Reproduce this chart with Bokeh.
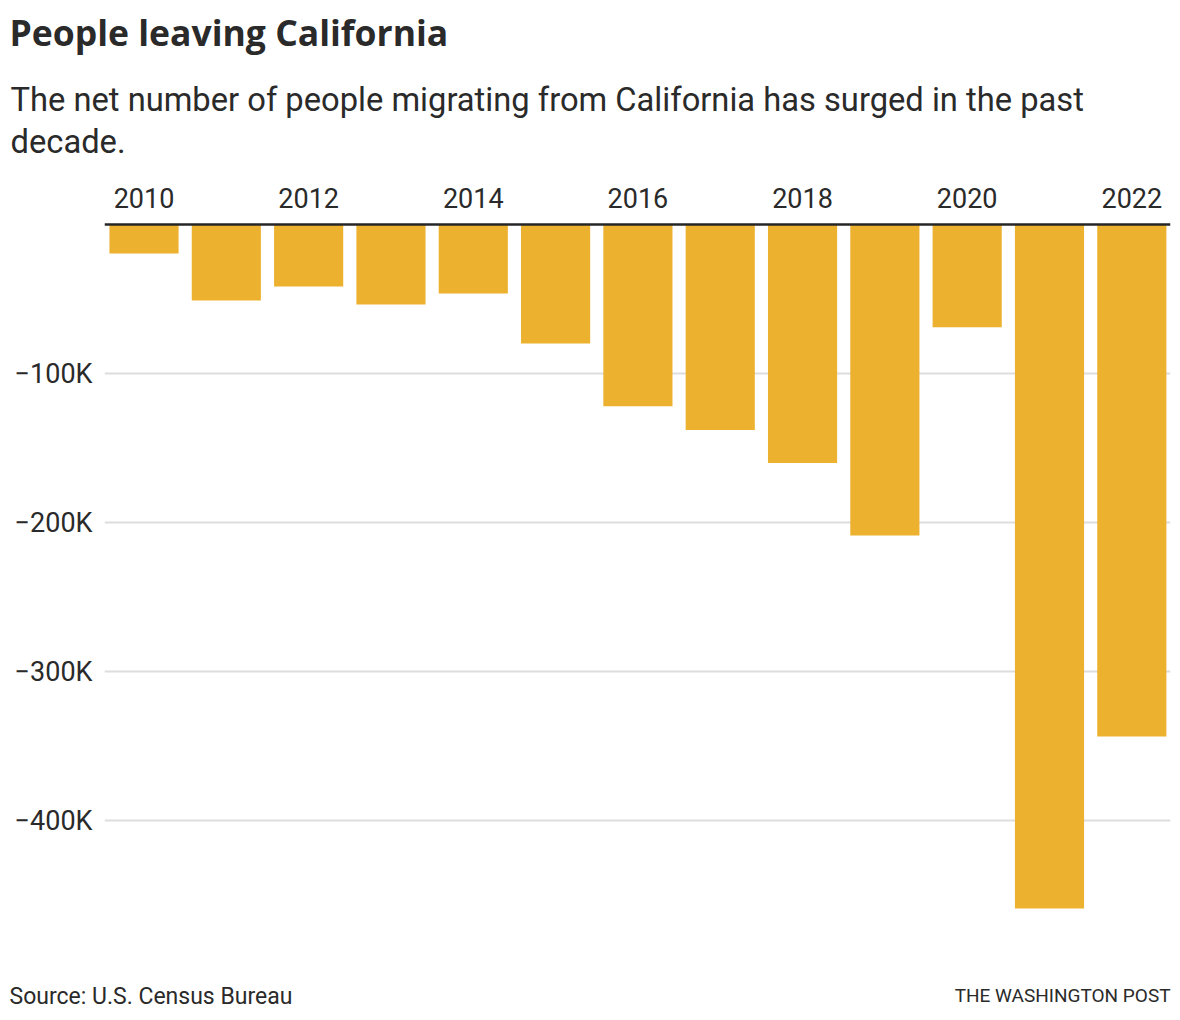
from bokeh.plotting import figure
from bokeh.models import Range1d, FixedTicker, Span, Title, ColumnDataSource
from bokeh.embed import file_html
from bokeh.resources import INLINE

# ---- data ----
years = [2010, 2011, 2012, 2013, 2014, 2015, 2016, 2017, 2018, 2019, 2020, 2021, 2022]
net_migration = [-19500, -51000, -41600, -53700, -46300, -79900, -122000,
                 -138000, -160000, -208700, -69000, -459000, -343600]
x_tick_years = [2010, 2012, 2014, 2016, 2018, 2020, 2022]
y_ticks = [-100000, -200000, -300000, -400000]
y_tick_labels = ["\u2212100K", "\u2212200K", "\u2212300K", "\u2212400K"]

title_text = "People leaving California"
subtitle_text = "The net number of people migrating from California has surged in the past\ndecade."
source_text = "Source: U.S. Census Bureau"
credit_text = "THE WASHINGTON POST"

BAR = "#ECB12F"
TXT = "#2a2a2a"
FONT = "Roboto"

src = ColumnDataSource(dict(year=years, value=net_migration))

p = figure(width=1172, height=1012, output_backend="svg", toolbar_location=None,
           x_range=Range1d(2009.52, 2022.47), y_range=Range1d(-516760, 1340),
           x_axis_location="above",
           min_border_left=104, min_border_right=2, min_border_top=222, min_border_bottom=18)
p.outline_line_color = None
p.background_fill_color = "white"
p.border_fill_color = "white"

p.vbar(x="year", width=0.84, top=0, bottom="value", source=src,
       fill_color=BAR, line_color=None)

p.add_layout(Span(location=0, dimension="width", line_color="#262626", line_width=2.5, level="overlay"))

# grids
p.xgrid.grid_line_color = None
p.ygrid.ticker = FixedTicker(ticks=y_ticks)
p.ygrid.grid_line_color = "#dddddd"
p.ygrid.grid_line_width = 2

# x axis (top)
xa = p.xaxis[0]
xa.ticker = FixedTicker(ticks=x_tick_years)
xa.major_label_overrides = {y: str(y) for y in x_tick_years}
xa.axis_line_color = None
xa.major_tick_line_color = None
xa.minor_tick_line_color = None
xa.major_label_standoff = 9
xa.major_label_text_font = FONT
xa.major_label_text_font_size = "27px"
xa.major_label_text_color = TXT

# y axis
ya = p.yaxis[0]
ya.ticker = FixedTicker(ticks=y_ticks)
ya.major_label_overrides = {t: l for t, l in zip(y_ticks, y_tick_labels)}
ya.axis_line_color = None
ya.major_tick_line_color = None
ya.minor_tick_line_color = None
ya.major_label_standoff = 6
ya.major_label_text_font = FONT
ya.major_label_text_font_size = "27px"
ya.major_label_text_color = TXT

# header (later added = further from the frame)
p.add_layout(Title(text=subtitle_text, align="left", offset=-94, text_font=FONT,
                   text_font_size="32.7px", text_font_style="normal", text_line_height=1.12,
                   text_color=TXT, standoff=46), "above")
p.add_layout(Title(text=title_text, align="left", offset=-95, text_font="Open Sans",
                   text_font_size="35.5px", text_font_style="bold",
                   text_color=TXT, standoff=0), "above")

# footer: two near-zero-height rows sharing one line
p.add_layout(Title(text=credit_text, align="right", offset=0, text_font=FONT,
                   text_font_size="19px", text_font_style="normal", vertical_align="middle",
                   text_color=TXT, standoff=-24), "below")
p.add_layout(Title(text=source_text, align="left", offset=-95, text_font=FONT,
                   text_font_size="23px", text_font_style="normal", vertical_align="middle",
                   text_color=TXT, standoff=-27), "below")

open("out.html", "w").write(file_html(p, INLINE))
